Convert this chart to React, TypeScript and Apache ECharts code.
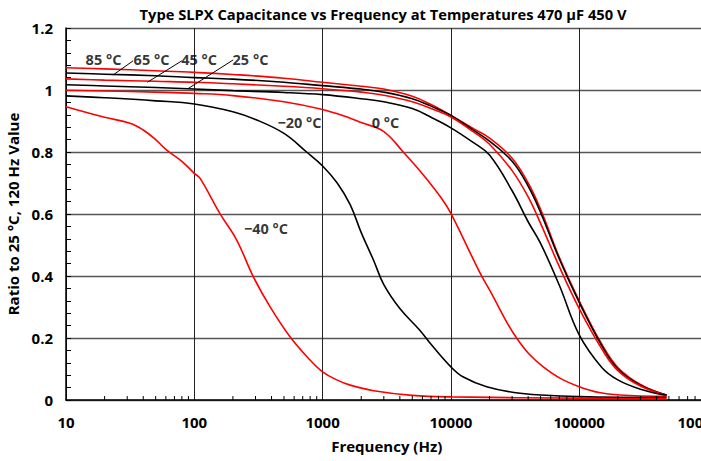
import React, { useEffect, useRef } from "react";
import * as echarts from "echarts";

const TITLE = "Type SLPX Capacitance vs Frequency at Temperatures 470 µF 450 V";
const X_NAME = "Frequency (Hz)";
const Y_NAME = "Ratio to 25 °C, 120 Hz Value";

const FREQ_HOT = [10, 20, 50, 100, 200, 500, 1000, 2000, 3000, 5000, 7000, 10000, 15000, 20000, 30000, 40000, 50000, 70000, 100000, 150000, 200000, 300000, 480000];
const C85 = [1.072, 1.068, 1.062, 1.057, 1.05, 1.038, 1.025, 1.012, 1.003, 0.98, 0.953, 0.918, 0.875, 0.845, 0.78, 0.7, 0.615, 0.46, 0.32, 0.18, 0.105, 0.05, 0.015];
const C65 = [1.055, 1.051, 1.046, 1.04, 1.035, 1.025, 1.014, 1.003, 0.993, 0.972, 0.948, 0.918, 0.87, 0.835, 0.77, 0.69, 0.605, 0.455, 0.315, 0.175, 0.1, 0.048, 0.016];
const C45 = [1.036, 1.032, 1.028, 1.025, 1.02, 1.012, 1.004, 0.993, 0.983, 0.962, 0.94, 0.913, 0.865, 0.825, 0.74, 0.655, 0.57, 0.43, 0.295, 0.165, 0.095, 0.045, 0.015];
const C25 = [1.017, 1.013, 1.008, 1.003, 0.998, 0.992, 0.985, 0.972, 0.962, 0.94, 0.912, 0.878, 0.83, 0.79, 0.675, 0.575, 0.505, 0.37, 0.21, 0.105, 0.065, 0.035, 0.015];

const FREQ_0 = [10, 20, 50, 100, 200, 500, 1000, 1640, 2000, 3000, 4250, 6100, 8470, 10000, 16900, 20000, 32600, 52500, 100000, 208000, 480000];
const C0 = [0.999, 0.997, 0.993, 0.989, 0.982, 0.962, 0.937, 0.909, 0.895, 0.866, 0.8, 0.726, 0.65, 0.602, 0.409, 0.355, 0.199, 0.107, 0.043, 0.016, 0.012];

const FREQ_M20 = [10, 20, 50, 100, 200, 300, 500, 750, 1000, 1300, 1640, 2000, 2500, 3000, 4000, 5700, 7000, 10000, 12400, 19000, 34600, 100000, 480000];
const CM20 = [0.981, 0.975, 0.965, 0.955, 0.93, 0.905, 0.86, 0.8, 0.755, 0.7, 0.63, 0.54, 0.45, 0.372, 0.295, 0.226, 0.18, 0.107, 0.075, 0.043, 0.022, 0.011, 0.008];

const FREQ_M40 = [10, 20, 31.5, 40, 50, 61, 80, 100, 111, 158, 214, 288, 389, 557, 798, 1000, 1290, 1640, 2500, 5000, 10000, 100000, 480000];
const CM40 = [0.946, 0.912, 0.893, 0.871, 0.84, 0.806, 0.77, 0.731, 0.715, 0.602, 0.516, 0.398, 0.301, 0.204, 0.129, 0.091, 0.065, 0.048, 0.03, 0.015, 0.01, 0.006, 0.004];

const LABEL_TEXT = ["85 °C", "65 °C", "45 °C", "25 °C", "−20 °C", "0 °C", "−40 °C"];
const LABEL_F = [19.6, 46.4, 109, 274, 661, 3090, 362];
const LABEL_V = [1.097, 1.097, 1.097, 1.097, 0.895, 0.895, 0.552];

const LEADER_F1 = [23.2, 43.1, 89.8];
const LEADER_V1 = [1.048, 1.025, 1.005];
const LEADER_F2 = [33.3, 79.8, 201];
const LEADER_V2 = [1.094, 1.094, 1.097];

const DECADES = [1, 2, 3, 4, 5];
const SUBS = [2, 3, 4, 5, 6, 7, 8, 9];

const RED = "#ff0000";
const BLACK = "#000000";
const FONT = "'Open Sans'";

export default function App() {
  const ref = useRef<HTMLDivElement>(null);
  useEffect(() => {
    const chart = echarts.init(ref.current!, null, { renderer: "svg" });
    const pairs = (f: number[], v: number[]) => f.map((x, i) => [x, v[i]]);
    const mk = (name: string, color: string, f: number[], v: number[]) => ({
      name,
      type: "line",
      data: pairs(f, v),
      symbol: "none",
      showSymbol: false,
      smooth: 0.4,
      lineStyle: { color, width: 1.6 },
      itemStyle: { color },
      silent: true,
      z: 3,
    });
    const minorTicks: number[][] = [];
    DECADES.forEach((d) => SUBS.forEach((s) => minorTicks.push([s * Math.pow(10, d), 0])));

    chart.setOption({
      animation: false,
      backgroundColor: "#ffffff",
      textStyle: { fontFamily: FONT },
      grid: { left: 66, right: -6.5, top: 28, bottom: 61, containLabel: false, outerBoundsMode: "none" },
      graphic: [
        {
          type: "text",
          x: 383,
          y: 14,
          style: {
            text: TITLE,
            textAlign: "center",
            textVerticalAlign: "middle",
            font: `bold 14.7px ${FONT}`,
            fill: "#000",
          },
        },
      ],
      xAxis: {
        type: "log",
        logBase: 10,
        min: 10,
        max: 1000000,
        name: X_NAME,
        nameLocation: "middle",
        nameGap: 38,
        nameTextStyle: { fontSize: 15, fontWeight: "bold", color: "#000", fontFamily: FONT },
        axisLine: { show: true, onZero: false, lineStyle: { color: "#000", width: 1.5 } },
        axisTick: { show: false },
        axisLabel: {
          fontSize: 15,
          fontWeight: "bold",
          color: "#000",
          margin: 14,
          fontFamily: FONT,
          formatter: (v: number) => String(Math.round(v)),
        },
        splitLine: { show: true, lineStyle: { color: "#222", width: 1 } },
      },
      yAxis: {
        type: "value",
        min: 0,
        max: 1.2,
        interval: 0.2,
        name: Y_NAME,
        nameLocation: "middle",
        nameGap: 38,
        nameTextStyle: { fontSize: 15, fontWeight: "bold", color: "#000", fontFamily: FONT },
        axisLine: { show: true, lineStyle: { color: "#000", width: 1.5 } },
        axisTick: { show: true, inside: true, length: 5, lineStyle: { color: "#000" } },
        minorTick: { show: true, splitNumber: 5, length: 5, lineStyle: { color: "#000" } },
        axisLabel: {
          fontSize: 15,
          fontWeight: "bold",
          color: "#000",
          margin: 13,
          fontFamily: FONT,
        },
        splitLine: { show: true, lineStyle: { color: "#555", width: 1.3 } },
      },
      series: [
        {
          type: "custom",
          name: "minorTicks",
          silent: true,
          data: minorTicks,
          encode: { x: 0, y: 1 },
          z: 5,
          renderItem: (params: any, api: any) => {
            const p = api.coord([api.value(0), 0]);
            return {
              type: "line",
              shape: { x1: p[0], y1: p[1], x2: p[0], y2: p[1] - 4 },
              style: { stroke: "#000", lineWidth: 1 },
            };
          },
        },
        mk("85 °C", RED, FREQ_HOT, C85),
        mk("65 °C", BLACK, FREQ_HOT, C65),
        mk("45 °C", RED, FREQ_HOT, C45),
        mk("25 °C", BLACK, FREQ_HOT, C25),
        mk("0 °C", RED, FREQ_0, C0),
        mk("−20 °C", BLACK, FREQ_M20, CM20),
        mk("−40 °C", RED, FREQ_M40, CM40),
        {
          type: "scatter",
          name: "labels",
          silent: true,
          symbolSize: 0,
          z: 6,
          data: LABEL_TEXT.map((t, i) => ({ value: [LABEL_F[i], LABEL_V[i]], name: t })),
          label: {
            show: true,
            position: "inside",
            formatter: (p: any) => p.name,
            fontSize: 14.5,
            fontWeight: "bold",
            color: "#000",
            fontFamily: FONT,
          },
          markLine: {
            silent: true,
            symbol: "none",
            label: { show: false },
            lineStyle: { color: "#000", width: 1, type: "solid" },
            data: LEADER_F1.map((f, i) => [
              { coord: [f, LEADER_V1[i]] },
              { coord: [LEADER_F2[i], LEADER_V2[i]] },
            ]),
          },
        },
      ],
    });
    return () => chart.dispose();
  }, []);
  return (
    <div
      ref={ref}
      style={{ position: "fixed", left: 0, top: 0, width: 701, height: 461, background: "#fff" }}
    />
  );
}
